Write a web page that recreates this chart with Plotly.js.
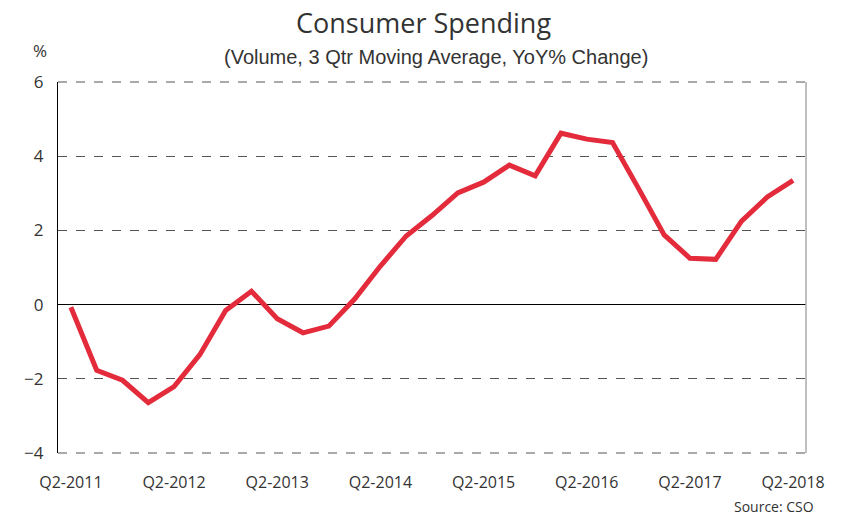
<!DOCTYPE html>
<html>
<head>
<meta charset="utf-8">
<script src="https://cdn.plot.ly/plotly-3.0.1.min.js"></script>
<style>html,body{margin:0;padding:0;background:#fff;}#chart{width:850px;height:517px;}</style>
</head>
<body>
<div id="chart"></div>
<script>
const quarters = [
  "Q2-2011","Q3-2011","Q4-2011","Q1-2012","Q2-2012","Q3-2012","Q4-2012","Q1-2013",
  "Q2-2013","Q3-2013","Q4-2013","Q1-2014","Q2-2014","Q3-2014","Q4-2014","Q1-2015",
  "Q2-2015","Q3-2015","Q4-2015","Q1-2016","Q2-2016","Q3-2016","Q4-2016","Q1-2017",
  "Q2-2017","Q3-2017","Q4-2017","Q1-2018","Q2-2018"
];
const spending = [
  -0.07,-1.77,-2.04,-2.64,-2.21,-1.35,-0.16,0.36,
  -0.38,-0.76,-0.58,0.15,1.04,1.85,2.40,3.01,
  3.30,3.76,3.47,4.62,4.46,4.37,3.14,1.88,
  1.25,1.22,2.25,2.90,3.35
];
const tickLabels = ["Q2-2011","Q2-2012","Q2-2013","Q2-2014","Q2-2015","Q2-2016","Q2-2017","Q2-2018"];
const yTicks = [-4,-2,0,2,4,6];

const sans = '"Open Sans", sans-serif';

const trace = {
  x: quarters,
  y: spending,
  type: 'scatter',
  mode: 'lines',
  line: {color: '#e32b3b', width: 5},
  hoverinfo: 'skip'
};

const layout = {
  width: 850, height: 517,
  margin: {l: 58, r: 44, t: 82, b: 64},
  paper_bgcolor: '#fff', plot_bgcolor: '#fff',
  showlegend: false,
  xaxis: {
    type: 'category',
    range: [-0.5, quarters.length - 0.5],
    tickmode: 'array',
    tickvals: tickLabels,
    ticktext: tickLabels,
    showgrid: false,
    zeroline: false,
    showline: false,
    ticks: '',
    ticklabelstandoff: 18,
    tickfont: {family: sans, size: 16, color: '#333'}
  },
  yaxis: {
    range: [-4, 6],
    tickmode: 'array',
    tickvals: yTicks,
    showgrid: true,
    gridcolor: '#555',
    griddash: 'dash',
    gridwidth: 1,
    zeroline: true,
    zerolinecolor: '#000',
    zerolinewidth: 1.2,
    showline: true,
    linecolor: '#000',
    linewidth: 1.2,
    ticks: '',
    ticklabelstandoff: 10,
    tickfont: {family: sans, size: 17, color: '#333'}
  },
  shapes: [
    {type: 'line', xref: 'paper', yref: 'paper', x0: 1, x1: 1, y0: 0, y1: 1,
     line: {color: '#aaa', width: 1.5}},
    {type: 'line', xref: 'paper', yref: 'paper', x0: 0, x1: 1, y0: 1, y1: 1,
     line: {color: '#555', width: 1, dash: 'dash'}},
    {type: 'line', xref: 'paper', yref: 'paper', x0: 0, x1: 1, y0: 0, y1: 0,
     line: {color: '#555', width: 1, dash: 'dash'}}
  ],
  annotations: [
    {text: 'Consumer Spending', xref: 'paper', yref: 'paper', x: 0.488, y: 1, yshift: 60,
     xanchor: 'center', yanchor: 'middle', showarrow: false,
     font: {family: sans, size: 27, color: '#333'}},
    {text: '(Volume, 3 Qtr Moving Average, YoY% Change)', xref: 'paper', yref: 'paper', x: 0.505, y: 1, yshift: 25,
     xanchor: 'center', yanchor: 'middle', showarrow: false,
     font: {family: '"Liberation Sans", Arial, sans-serif', size: 20, color: '#333'}},
    {text: '%', xref: 'paper', yref: 'paper', x: 0, xshift: -18, y: 1, yshift: 32,
     xanchor: 'center', yanchor: 'middle', showarrow: false,
     font: {family: sans, size: 17, color: '#333'}},
    {text: 'Source: CSO', xref: 'paper', yref: 'paper', x: 1, xshift: 10, y: 0, yshift: -53,
     xanchor: 'right', yanchor: 'middle', showarrow: false,
     font: {family: sans, size: 14, color: '#333'}}
  ]
};

Plotly.newPlot('chart', [trace], layout, {displayModeBar: false, staticPlot: true});
</script>
</body>
</html>
